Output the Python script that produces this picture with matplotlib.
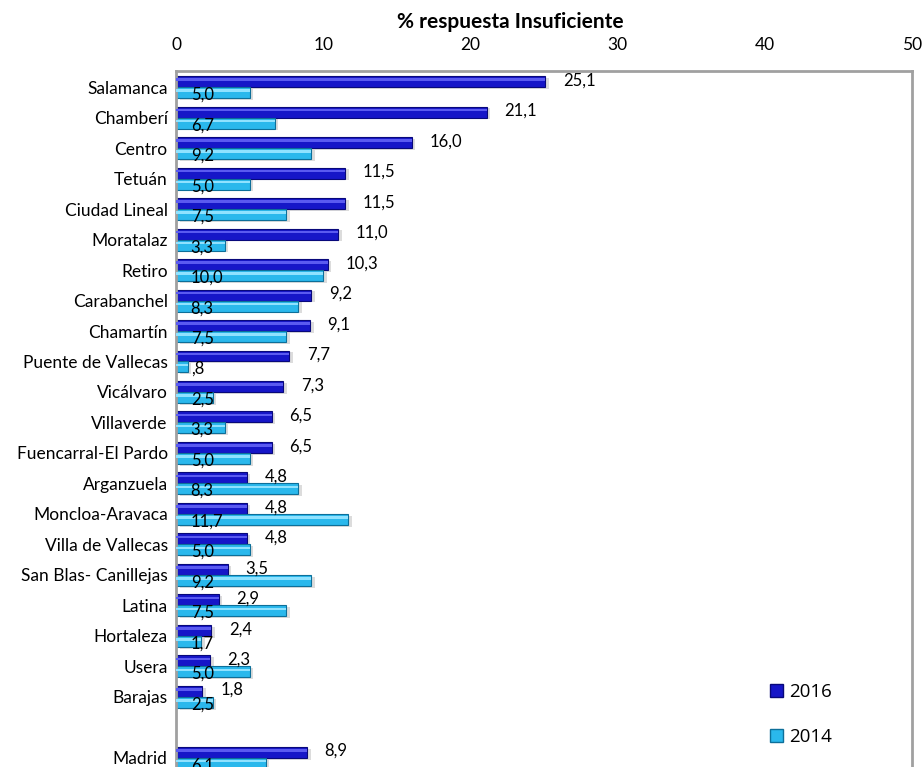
import numpy as np
import matplotlib.pyplot as plt
from matplotlib.patches import Patch

distritos = ['Salamanca', 'Chamberí', 'Centro', 'Tetuán', 'Ciudad Lineal', 'Moratalaz',
             'Retiro', 'Carabanchel', 'Chamartín', 'Puente de Vallecas', 'Vicálvaro',
             'Villaverde', 'Fuencarral-El Pardo', 'Arganzuela', 'Moncloa-Aravaca',
             'Villa de Vallecas', 'San Blas- Canillejas', 'Latina', 'Hortaleza', 'Usera',
             'Barajas', 'Madrid']
v2016 = [25.1, 21.1, 16.0, 11.5, 11.5, 11.0, 10.3, 9.2, 9.1, 7.7, 7.3, 6.5, 6.5,
         4.8, 4.8, 4.8, 3.5, 2.9, 2.4, 2.3, 1.8, 8.9]
v2014 = [5.0, 6.7, 9.2, 5.0, 7.5, 3.3, 10.0, 8.3, 7.5, 0.8, 2.5, 3.3, 5.0,
         8.3, 11.7, 5.0, 9.2, 7.5, 1.7, 5.0, 2.5, 6.1]

# posiciones: hueco antes de Madrid
pos = np.array(list(range(21)) + [22])

def fmt(v):
    s = '%.1f' % v
    s = s.replace('.', ',')
    if s.startswith('0'):
        s = s[1:]
    return s

plt.rcParams['font.family'] = ['Lato', 'DejaVu Sans']

fig = plt.figure(figsize=(9.23, 7.67), dpi=100)
ax = fig.add_axes([176/923, 1-773/767, 736/923, 702/767])

h = 0.36
off = 0.18
c16, c16d, c16l = '#1616c8', '#08087a', '#5a5af0'
c14, c14d, c14l = '#2ab8ec', '#0d6f99', '#8fe2ff'

for vals, d, c, cd, cl in [(v2016, -off, c16, c16d, c16l), (v2014, off, c14, c14d, c14l)]:
    y = pos + d
    # sombra
    ax.barh(y + 0.06, vals, height=h, left=0.25, color='#bbbbbb', alpha=0.5, zorder=1)
    ax.barh(y, vals, height=h, color=c, edgecolor=cd, linewidth=0.8, zorder=2)
    ax.barh(y - h*0.18, vals, height=h*0.22, color=cl, linewidth=0, zorder=3)

for p, a, b in zip(pos, v2016, v2014):
    ax.text(a + 1.2, p - off - 0.04, fmt(a), fontsize=12, va='center', ha='left', zorder=5)
    ax.text(1.0, p + off + 0.07, fmt(b), fontsize=12, va='center', ha='left', zorder=5)

ax.set_xlim(0, 50)
ax.set_ylim(22.5, -0.53)
ax.set_yticks(pos)
ax.set_yticklabels(distritos, fontsize=12.5)
ax.set_xticks([0, 10, 20, 30, 40, 50])
ax.xaxis.tick_top()
ax.tick_params(axis='both', length=0)
ax.tick_params(axis='x', pad=13, labelsize=12.5)
ax.tick_params(axis='y', pad=6)
for s in ['left', 'top', 'right']:
    ax.spines[s].set_color('#a0a0a0')
    ax.spines[s].set_linewidth(2)
ax.spines['bottom'].set_visible(False)

fig.text(510/923, 1-22/767, '% respuesta Insuficiente', fontsize=15, fontweight='bold',
         ha='center', va='center')

handles = [Patch(facecolor=c16, edgecolor=c16d), Patch(facecolor=c14, edgecolor=c14d)]
fig.legend(handles, ['2016', '2014'], loc='upper left', bbox_to_anchor=(753/923, 1-666/767),
           frameon=False, handlelength=0.7, handleheight=0.7, handletextpad=0.3,
           labelspacing=1.45, prop={'family': 'Open Sans', 'size': 13.5})

fig.savefig('out.png', dpi=100)
